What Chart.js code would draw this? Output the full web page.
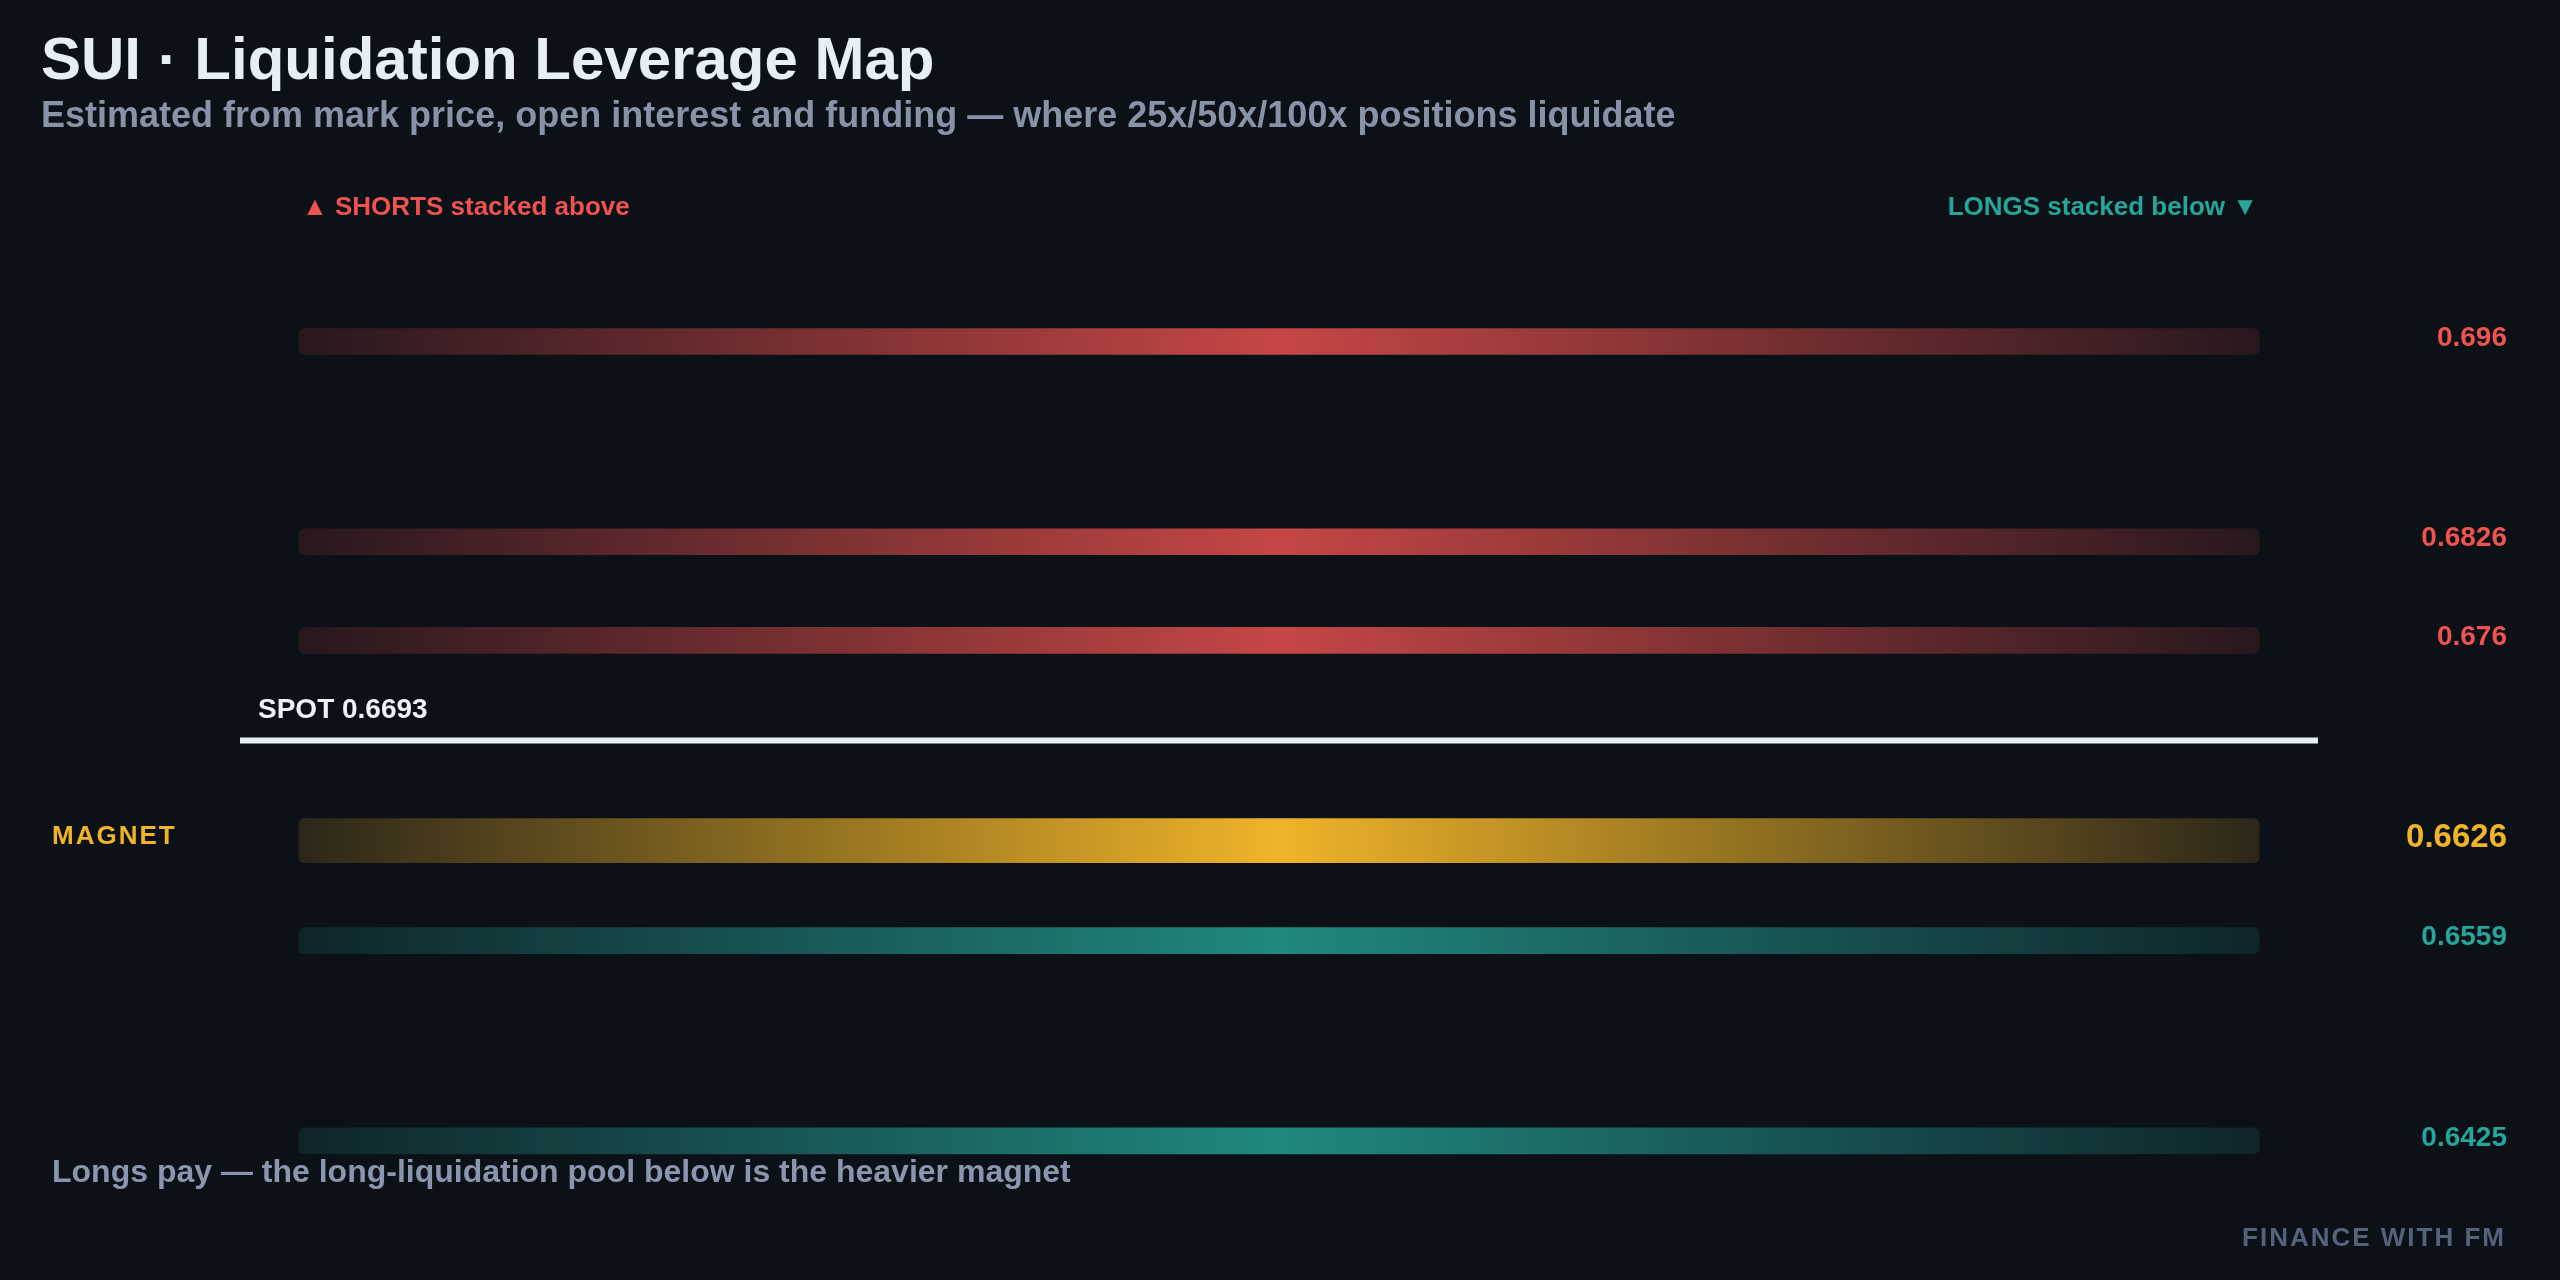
<!DOCTYPE html>
<html>
<head>
<meta charset="utf-8">
<title>SUI · Liquidation Leverage Map</title>
<script src="https://cdn.jsdelivr.net/npm/chart.js@4.4.1/dist/chart.umd.min.js"></script>
<style>
  html, body { margin: 0; padding: 0; background: #0c1017; }
  #wrap { position: relative; width: 2560px; height: 1280px; overflow: hidden;
          font-family: "Liberation Sans", Arial, sans-serif; font-weight: bold; }
  #wrap canvas { position: absolute; left: 0; top: 0; }
  .txt { position: absolute; white-space: nowrap; line-height: 1; }
  #title { left: 41px; top: 29px; font-size: 60px; color: #e8eef6; }
  #subtitle { left: 41px; top: 97px; font-size: 36px; color: #8893a8; }
  #shorts { left: 302px; top: 193px; font-size: 26px; color: #ef5350; }
  #longs { right: 302px; top: 193px; font-size: 26px; color: #26a69a; }
  #note { left: 52px; top: 1155px; font-size: 32px; color: #8a96ae; }
  #credit { right: 54px; top: 1224px; font-size: 26px; color: #55627c; letter-spacing: 2px; }
</style>
</head>
<body>
<div id="wrap">
  <canvas id="levelMap"></canvas>
  <div class="txt" id="title">SUI · Liquidation Leverage Map</div>
  <div class="txt" id="subtitle">Estimated from mark price, open interest and funding — where 25x/50x/100x positions liquidate</div>
  <div class="txt" id="shorts">▲ SHORTS stacked above</div>
  <div class="txt" id="longs">LONGS stacked below ▼</div>
  <div class="txt" id="note">Longs pay — the long-liquidation pool below is the heavier magnet</div>
  <div class="txt" id="credit">FINANCE WITH FM</div>
</div>

<script>
/* ====== DATEN ====== */
const shortLevels = [0.696, 0.6826, 0.676];   // Short-Liquidationen über Spot
const longLevels  = [0.6559, 0.6425];         // Long-Liquidationen unter Spot
const magnetLevel = [0.6626];                 // stärkster Pool
const spotPrice   = 0.6693;
const barSpan     = [0, 1];                   // Balken über die ganze Breite
const spotSpan    = [-0.03, 1.03];            // Spot-Linie etwas breiter
const priceRange  = [0.636, 0.704];

/* ====== FARBEN ====== */
const RED = [239, 83, 80];
const TEAL = [38, 166, 154];
const GOLD = [240, 180, 41];
const rgba = (c, a) => `rgba(${c[0]},${c[1]},${c[2]},${a})`;

// Verlauf: an den Rändern dunkel, in der Mitte hell
function fade(color, peak, edge) {
  return ctx => {
    const chart = ctx.chart;
    if (!chart.chartArea) return rgba(color, peak);
    const xs = chart.scales.x;
    const x0 = xs.getPixelForValue(barSpan[0]);
    const x1 = xs.getPixelForValue(barSpan[1]);
    const g = chart.ctx.createLinearGradient(x0, 0, x1, 0);
    g.addColorStop(0, rgba(color, edge));
    g.addColorStop(0.5, rgba(color, peak));
    g.addColorStop(1, rgba(color, edge));
    return g;
  };
}

const toBars = levels => levels.map(p => ({ x: barSpan, y: p }));

/* ====== LABEL-PLUGIN ====== */
const levelLabels = {
  id: "levelLabels",
  afterDatasetsDraw(chart) {
    const c = chart.ctx;
    const ys = chart.scales.y;
    c.save();
    c.textBaseline = "middle";
    c.textAlign = "right";
    chart.data.datasets.forEach((ds, i) => {
      if (!ds.labelColor) return;
      const meta = chart.getDatasetMeta(i);
      c.font = `bold ${ds.labelSize}px "Liberation Sans", Arial, sans-serif`;
      c.fillStyle = ds.labelColor;
      meta.data.forEach((bar, j) => {
        c.fillText(String(ds.data[j].y), 2507, bar.y - 3);
      });
    });

    // Spot-Beschriftung
    const spotY = ys.getPixelForValue(spotPrice);
    c.textAlign = "left";
    c.textBaseline = "alphabetic";
    c.font = 'bold 28px "Liberation Sans", Arial, sans-serif';
    c.fillStyle = "#eef2f8";
    c.fillText("SPOT " + spotPrice, chart.chartArea.left + 18, spotY - 22);

    // Magnet-Beschriftung
    const magY = ys.getPixelForValue(magnetLevel[0]);
    c.font = 'bold 26px "Liberation Sans", Arial, sans-serif';
    c.letterSpacing = "2px";
    c.fillStyle = rgba(GOLD, 1);
    c.textBaseline = "middle";
    c.fillText("MAGNET", 52, magY - 4);
    c.restore();
  }
};

/* ====== CHART ====== */
const ctx = document.getElementById("levelMap").getContext("2d");

new Chart(ctx, {
  type: "bar",
  data: {
    datasets: [
      {
        label: "Shorts",
        data: toBars(shortLevels),
        backgroundColor: fade(RED, 0.82, 0.12),
        barThickness: 26,
        labelColor: rgba(RED, 1),
        labelSize: 28
      },
      {
        label: "Magnet",
        data: toBars(magnetLevel),
        backgroundColor: fade(GOLD, 1, 0.14),
        barThickness: 44,
        labelColor: rgba(GOLD, 1),
        labelSize: 33
      },
      {
        label: "Longs",
        data: toBars(longLevels),
        backgroundColor: fade(TEAL, 0.8, 0.14),
        barThickness: 26,
        labelColor: rgba(TEAL, 1),
        labelSize: 28
      },
      {
        type: "line",
        label: "Spot",
        data: spotSpan.map(x => ({ x, y: spotPrice })),
        borderColor: "#e8eef6",
        borderWidth: 6,
        pointRadius: 0,
        fill: false
      }
    ]
  },
  options: {
    indexAxis: "y",
    responsive: true,
    maintainAspectRatio: false,
    animation: false,
    datasets: {
      bar: { grouped: false, borderRadius: 6, borderSkipped: false }
    },
    layout: { padding: { left: 240, right: 242, top: 222, bottom: 42 } },
    scales: {
      x: { type: "linear", min: spotSpan[0], max: spotSpan[1], display: false },
      y: { type: "linear", min: priceRange[0], max: priceRange[1], offset: false, display: false }
    },
    plugins: {
      legend: { display: false },
      tooltip: { enabled: false },
      title: { display: false }
    }
  },
  plugins: [levelLabels]
});
</script>
</body>
</html>
